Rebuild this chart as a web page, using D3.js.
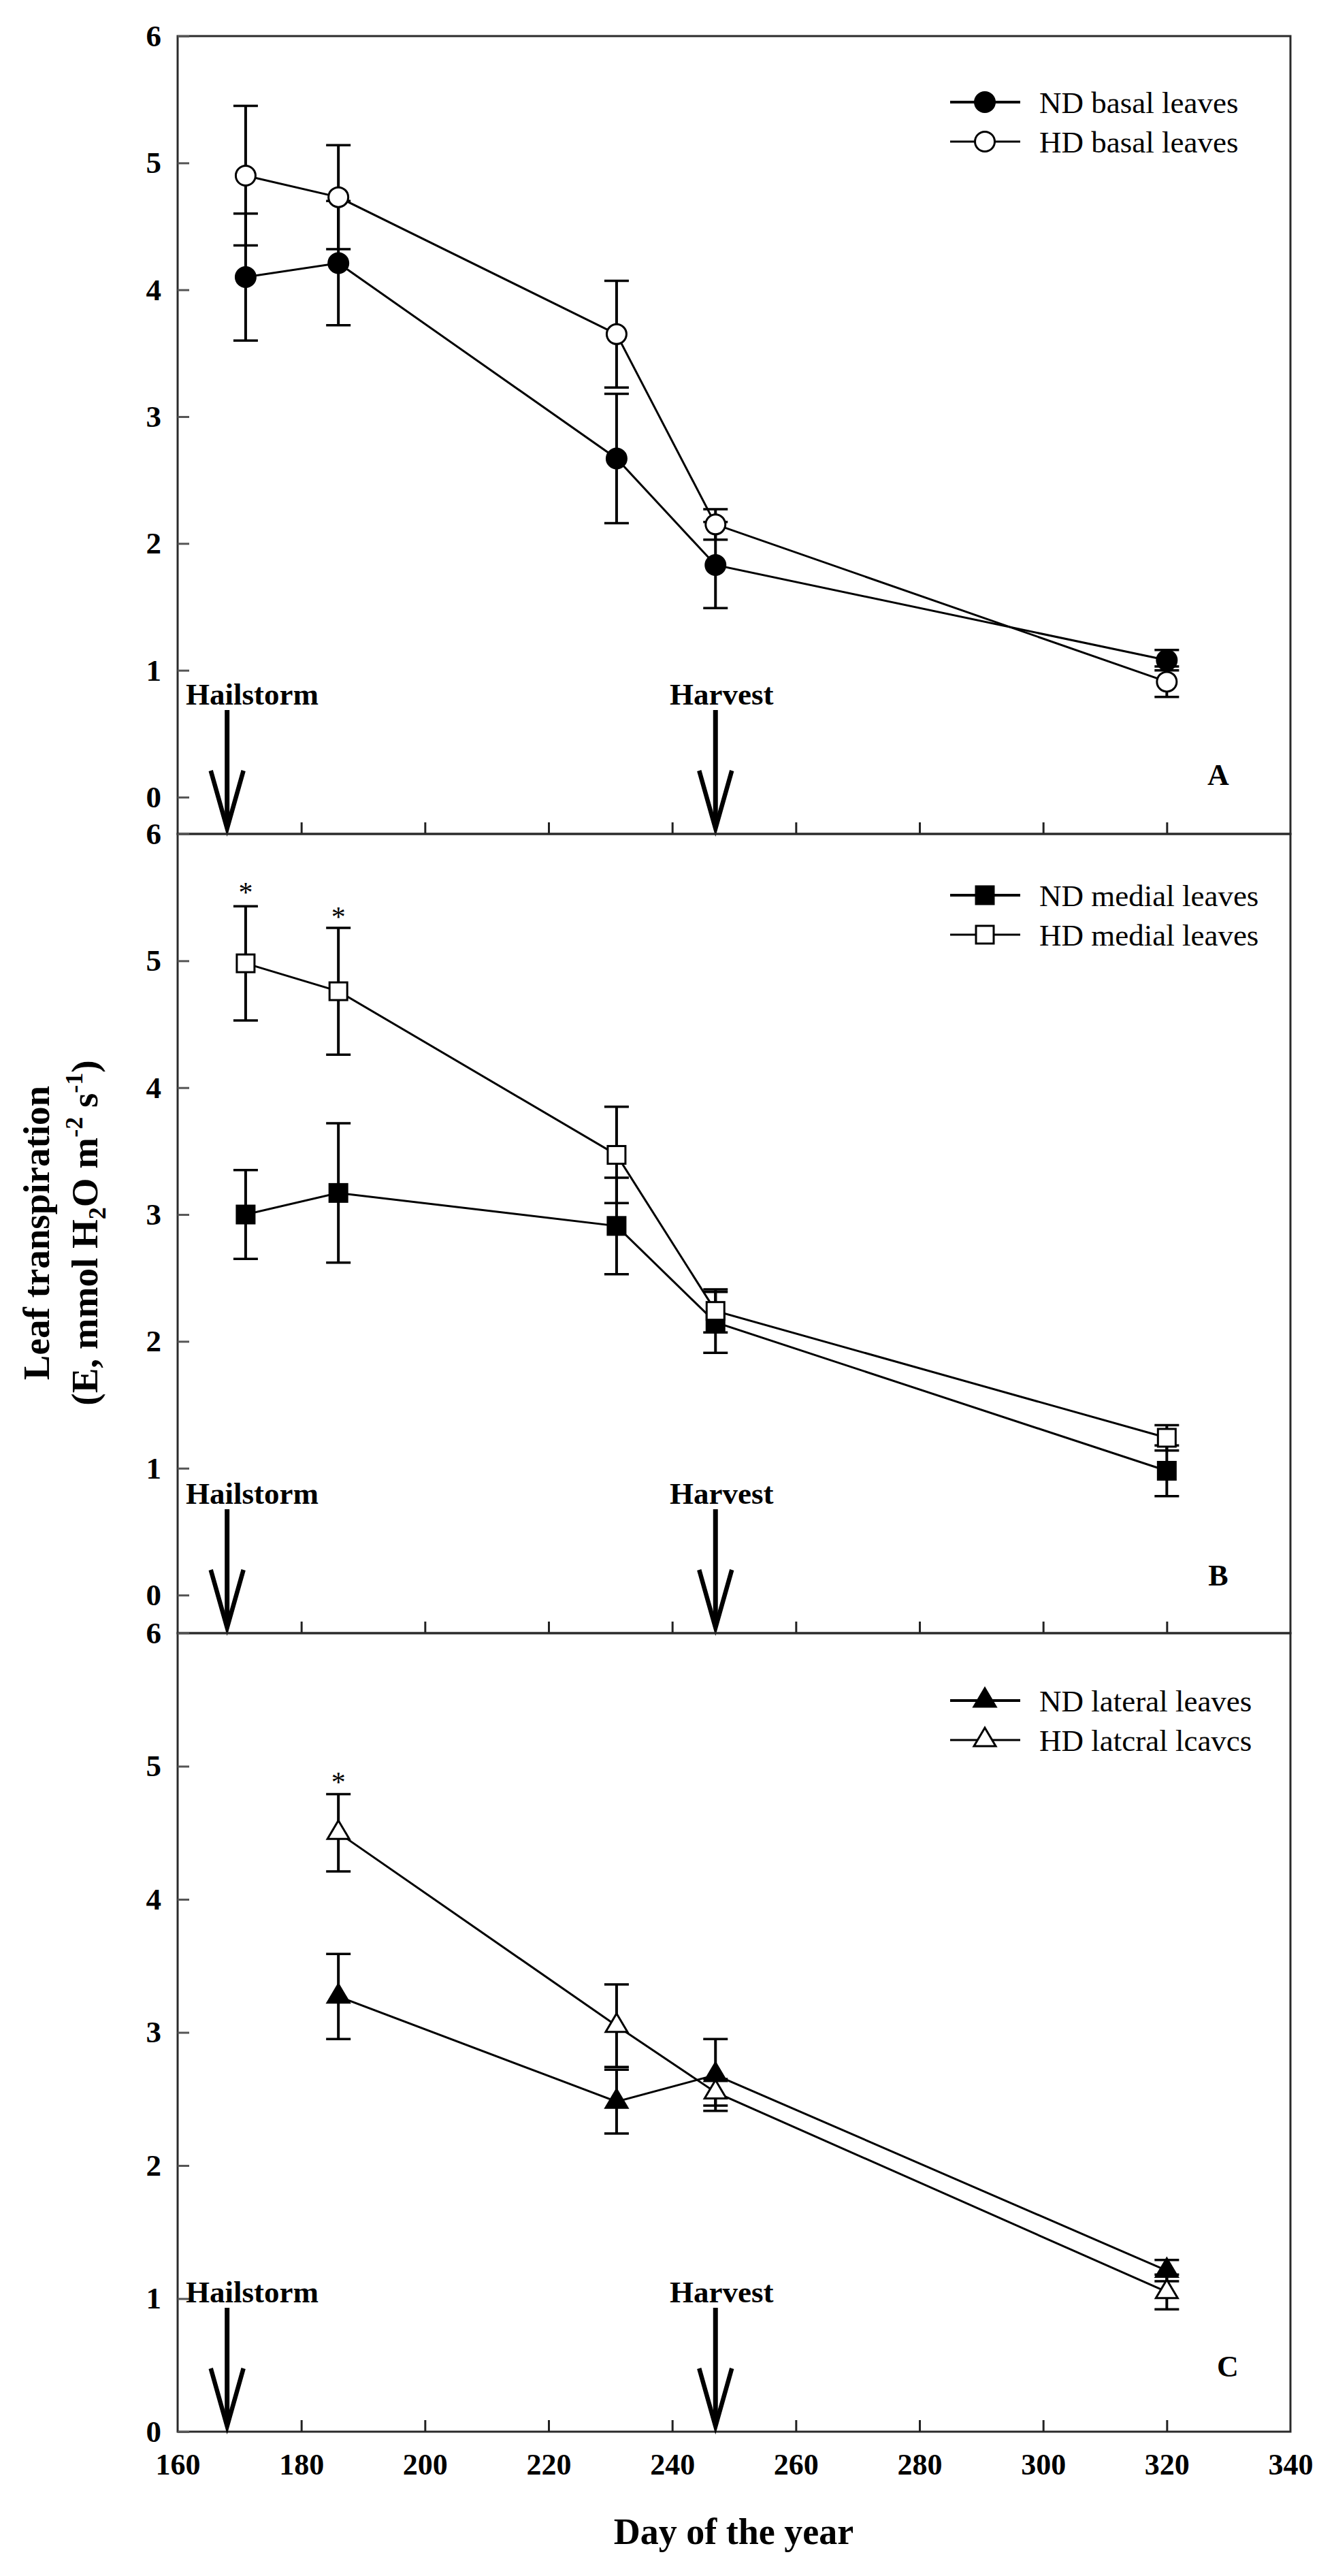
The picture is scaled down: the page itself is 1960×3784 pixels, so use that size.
<!DOCTYPE html>
<html>
<head>
<meta charset="utf-8">
<script src="https://cdn.jsdelivr.net/npm/d3@7"></script>
<style>
  body { margin: 0; background: #fff; }
  svg { display: block; }
  text { font-family: "Liberation Serif", "Times New Roman", serif; fill: #000; }
</style>
</head>
<body>
<script>
// sampling days
var days = [171, 186, 231, 247, 320];
var daysLateral = [186, 231, 247, 320];

// panel A - basal leaves
var ndBasal = [4.10, 4.21, 2.67, 1.83, 1.08];
var ndBasalErr = [0.50, 0.49, 0.51, 0.34, 0.08];
var hdBasal = [4.90, 4.73, 3.65, 2.15, 0.91];
var hdBasalErr = [0.55, 0.41, 0.42, 0.12, 0.12];

// panel B - medial leaves
var ndMedial = [3.00, 3.17, 2.91, 2.15, 0.98];
var ndMedialErr = [0.35, 0.55, 0.38, 0.24, 0.20];
var hdMedial = [4.98, 4.76, 3.47, 2.24, 1.24];
var hdMedialErr = [0.45, 0.50, 0.38, 0.17, 0.10];

// panel C - lateral leaves
var ndLateral = [3.27, 2.48, 2.68, 1.21];
var ndLateralErr = [0.32, 0.24, 0.27, 0.08];
var hdLateral = [4.50, 3.05, 2.55, 1.05];
var hdLateralErr = [0.29, 0.31, 0.10, 0.13];

var xTicks = [160, 180, 200, 220, 240, 260, 280, 300, 320, 340];
var yTicks = [0, 1, 2, 3, 4, 5, 6];

var eventNames = ["Hailstorm", "Harvest"];
var eventDays = [168, 247];

// significance stars: panel, day, height
var starPanels = ["B", "B", "C"];
var starDays = [171, 186, 186];
var starValues = [5.57, 5.38, 4.91];

var legendA = ["ND basal leaves", "HD basal leaves"];
var legendB = ["ND medial leaves", "HD medial leaves"];
var legendC = ["ND lateral leaves", "HD latcral lcavcs"];

var W = 1960, H = 3784;
var left = 261, right = 1896;

var svg = d3.select("body").append("svg")
  .attr("width", W)
  .attr("height", H);

var x = d3.scaleLinear().domain([160, 340]).range([left, right]);

var panels = [
  { id: "A", top: 53, bottom: 1225, ymin: -0.29, shape: "circle", x: days,
    nd: ndBasal, ndErr: ndBasalErr, hd: hdBasal, hdErr: hdBasalErr,
    legend: legendA, legendY: 97, letterX: 1790, letterUp: 87 },
  { id: "B", top: 1225, bottom: 2399, ymin: -0.30, shape: "square", x: days,
    nd: ndMedial, ndErr: ndMedialErr, hd: hdMedial, hdErr: hdMedialErr,
    legend: legendB, legendY: 90, letterX: 1790, letterUp: 85 },
  { id: "C", top: 2399, bottom: 3572, ymin: 0, shape: "triangle", x: daysLateral,
    nd: ndLateral, ndErr: ndLateralErr, hd: hdLateral, hdErr: hdLateralErr,
    legend: legendC, legendY: 99, letterX: 1804, letterUp: 96 }
];

function marker(g, shape, filled) {
  var fill = filled ? "#000" : "#fff";
  if (shape == "circle") {
    g.append("circle").attr("r", 14.5);
  } else if (shape == "square") {
    g.append("rect").attr("x", -13).attr("y", -13).attr("width", 26).attr("height", 26);
  } else {
    g.append("path").attr("d", "M0,-18L16,9L-16,9Z");
  }
  g.selectAll("*").attr("fill", fill).attr("stroke", "#000").attr("stroke-width", 3);
}

panels.forEach(function(p) {
  var y = d3.scaleLinear().domain([p.ymin, 6]).range([p.bottom, p.top]);
  var g = svg.append("g");

  // frame
  g.append("rect")
    .attr("x", left).attr("y", p.top)
    .attr("width", right - left).attr("height", p.bottom - p.top)
    .attr("fill", "none").attr("stroke", "#2a2a2a").attr("stroke-width", 3);

  // y axis (inward ticks)
  var yAxis = d3.axisLeft(y).tickValues(yTicks).tickSize(-17).tickPadding(24).tickFormat(d3.format("d"));
  var ya = g.append("g").attr("transform", "translate(" + left + ",0)").call(yAxis);
  ya.select(".domain").remove();
  ya.selectAll("line").attr("stroke", "#555").attr("stroke-width", 3);
  ya.selectAll("text").attr("font-size", 45).attr("font-weight", "bold")
    .attr("font-family", "Liberation Serif, Times New Roman, serif").attr("fill", "#000");

  // x axis ticks on bottom edge
  var xAxis = d3.axisBottom(x).tickValues(xTicks).tickSize(-17).tickPadding(32);
  if (p.id != "C") xAxis.tickFormat("");
  var xa = g.append("g").attr("transform", "translate(0," + p.bottom + ")").call(xAxis);
  xa.select(".domain").remove();
  xa.selectAll(".tick line").attr("stroke", "#222").attr("stroke-width", 3)
    .filter(function(d) { return d == 160 || d == 340; }).remove();
  xa.selectAll("text").attr("font-size", 44).attr("font-weight", "bold")
    .attr("font-family", "Liberation Serif, Times New Roman, serif").attr("fill", "#000");

  // events: arrows + labels
  eventDays.forEach(function(d, i) {
    var ax = x(d), tip = p.bottom - 8, topY = tip - 174;
    g.append("line").attr("x1", ax).attr("x2", ax).attr("y1", topY).attr("y2", tip - 4)
      .attr("stroke", "#000").attr("stroke-width", 7);
    g.append("path")
      .attr("d", "M" + (ax - 24) + "," + (tip - 85) + "L" + ax + "," + tip + "L" + (ax + 24) + "," + (tip - 85))
      .attr("fill", "none").attr("stroke", "#000").attr("stroke-width", 6.5);
    g.append("text")
      .attr("x", i == 0 ? 273 : 984)
      .attr("y", topY - 24)
      .attr("dy", "0.35em")
      .attr("font-size", 45).attr("font-weight", "bold")
      .text(eventNames[i]);
  });

  // series: HD first drawn under? draw lines, then bars, then markers
  var series = [
    { v: p.nd, e: p.ndErr, filled: true },
    { v: p.hd, e: p.hdErr, filled: false }
  ];
  var line = d3.line().x(function(d) { return x(d[0]); }).y(function(d) { return y(d[1]); });

  series.forEach(function(s) {
    var pts = p.x.map(function(d, i) { return [d, s.v[i], s.e[i]]; });
    g.append("path").datum(pts).attr("d", line)
      .attr("fill", "none").attr("stroke", "#000").attr("stroke-width", 3);
  });
  series.forEach(function(s) {
    var pts = p.x.map(function(d, i) { return [d, s.v[i], s.e[i]]; });
    var eb = g.append("g").selectAll("g").data(pts).enter().append("g");
    eb.append("line")
      .attr("x1", function(d) { return x(d[0]); }).attr("x2", function(d) { return x(d[0]); })
      .attr("y1", function(d) { return y(d[1] - d[2]); }).attr("y2", function(d) { return y(d[1] + d[2]); })
      .attr("stroke", "#000").attr("stroke-width", 4);
    [-1, 1].forEach(function(sg) {
      eb.append("line")
        .attr("x1", function(d) { return x(d[0]) - 18; }).attr("x2", function(d) { return x(d[0]) + 18; })
        .attr("y1", function(d) { return y(d[1] + sg * d[2]); }).attr("y2", function(d) { return y(d[1] + sg * d[2]); })
        .attr("stroke", "#000").attr("stroke-width", 3.5);
    });
  });
  series.forEach(function(s) {
    var pts = p.x.map(function(d, i) { return [d, s.v[i]]; });
    g.append("g").selectAll("g").data(pts).enter().append("g")
      .attr("transform", function(d) { return "translate(" + x(d[0]) + "," + y(d[1]) + ")"; })
      .each(function() { marker(d3.select(this), p.shape, s.filled); });
  });

  // stars
  starPanels.forEach(function(sp, i) {
    if (sp != p.id) return;
    g.append("text")
      .attr("x", x(starDays[i])).attr("y", y(starValues[i]) + 20)
      .attr("text-anchor", "middle").attr("font-size", 42)
      .text("*");
  });

  // legend
  p.legend.forEach(function(t, i) {
    var ly = p.top + p.legendY + i * 58;
    var lg = g.append("g");
    lg.append("line").attr("x1", 1396).attr("x2", 1499).attr("y1", ly).attr("y2", ly)
      .attr("stroke", "#000").attr("stroke-width", i == 0 ? 4 : 3);
    var mk = lg.append("g").attr("transform", "translate(1447," + ly + ")");
    marker(mk, p.shape, i == 0);
    lg.append("text").attr("x", 1527).attr("y", ly).attr("dy", "0.35em")
      .attr("font-size", 45).text(t);
  });

  // panel letter
  g.append("text")
    .attr("x", p.letterX).attr("y", p.bottom - p.letterUp).attr("dy", "0.35em")
    .attr("text-anchor", "middle").attr("font-size", 44).attr("font-weight", "bold")
    .text(p.id);
});

// y axis title
var yt = svg.append("g").attr("font-weight", "bold").attr("font-size", 55);
yt.append("text")
  .attr("transform", "translate(72,1811) rotate(-90)")
  .attr("text-anchor", "middle")
  .text("Leaf transpiration");
var t2 = yt.append("text")
  .attr("transform", "translate(143,1811) rotate(-90)")
  .attr("text-anchor", "middle");
t2.append("tspan").text("(E, mmol H");
t2.append("tspan").attr("dy", 12).attr("font-size", 36).text("2");
t2.append("tspan").attr("dy", -12).text("O m");
t2.append("tspan").attr("dy", -22).attr("font-size", 36).text("-2");
t2.append("tspan").attr("dy", 22).text(" s");
t2.append("tspan").attr("dy", -22).attr("font-size", 36).text("-1");
t2.append("tspan").attr("dy", 22).text(")");

// x axis title
svg.append("text")
  .attr("x", 1078).attr("y", 3737)
  .attr("text-anchor", "middle")
  .attr("font-size", 54).attr("font-weight", "bold")
  .text("Day of the year");
</script>
</body>
</html>
